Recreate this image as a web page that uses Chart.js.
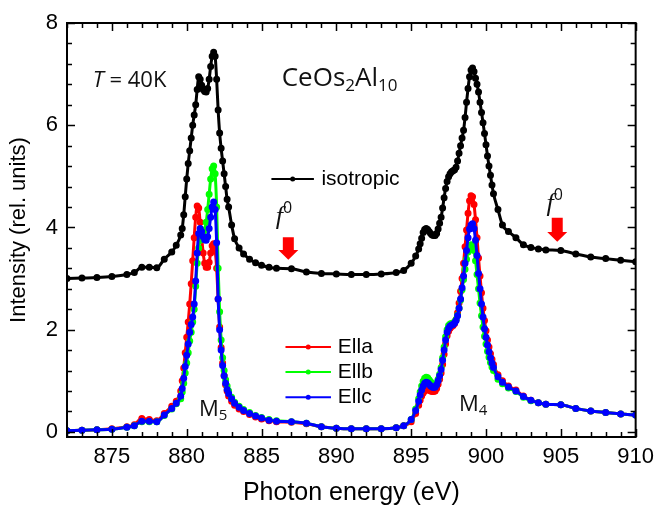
<!DOCTYPE html>
<html>
<head>
<meta charset="utf-8">
<script src="https://cdn.jsdelivr.net/npm/chart.js@4.4.1/dist/chart.umd.min.js"></script>
<style>
  html, body { margin: 0; padding: 0; background: #fff; }
</style>
</head>
<body>
<canvas id="xas" width="661" height="511"></canvas>
<script>
// photon energy grid (eV); denser across M5 and M4
const energy = [
  872, 873, 874, 875, 876, 876.5, 877, 877.5, 878, 878.5, 879, 879.3,
  879.6, 879.7, 879.8, 879.9, 880.0, 880.1, 880.2, 880.3, 880.4, 880.5, 880.6,
  880.7, 880.8, 880.9, 881.0, 881.1, 881.2, 881.3, 881.4, 881.5, 881.6, 881.7,
  881.8, 881.9, 882.0, 882.1, 882.2, 882.3, 882.4, 882.5, 882.6, 882.7, 882.8,
  883, 883.2, 883.5, 883.8, 884.2, 884.6, 885, 885.5, 886, 887, 888, 889,
  890, 891, 892, 893, 894, 894.5, 895, 895.3,
  895.5, 895.6, 895.7, 895.8, 895.9, 896.0, 896.1, 896.2, 896.3, 896.4, 896.5,
  896.6, 896.7, 896.8, 896.9, 897.0, 897.1, 897.2, 897.3, 897.4, 897.5, 897.6,
  897.7, 897.8, 897.9, 898.0, 898.1, 898.2, 898.3, 898.4, 898.5, 898.6, 898.7,
  898.8, 898.9, 899.0, 899.1, 899.2, 899.3, 899.4, 899.5, 899.6, 899.7, 899.8,
  899.9, 900.0, 900.1, 900.2, 900.3, 900.4, 900.5,
  900.8, 901.1, 901.5, 902, 902.5, 903, 903.5, 904, 905, 906, 907, 908, 909, 910];

// isotropic spectrum (offset by ~3)
const isotropic = [
  3.00, 3.01, 3.02, 3.04, 3.08, 3.12, 3.22, 3.22, 3.21, 3.38, 3.52, 3.65,
  3.85, 3.98, 4.25, 4.60, 4.95, 5.25, 5.50, 5.75, 6.00, 6.20, 6.40,
  6.70, 6.95, 6.90, 6.78, 6.70, 6.66, 6.65, 6.72, 6.90, 7.15, 7.35,
  7.43, 7.35, 6.90, 6.30, 5.85, 5.55, 5.30, 5.05, 4.80, 4.55, 4.40,
  4.05, 3.78, 3.60, 3.48, 3.38, 3.31, 3.26, 3.22, 3.20, 3.19, 3.13, 3.10,
  3.09, 3.08, 3.08, 3.09, 3.12, 3.16, 3.30, 3.44,
  3.58, 3.68, 3.79, 3.90, 3.96, 3.98, 3.96, 3.92, 3.88, 3.85, 3.84,
  3.84, 3.88, 3.97, 4.08, 4.20, 4.38, 4.58, 4.76, 4.90, 4.99, 5.05,
  5.09, 5.11, 5.13, 5.18, 5.30, 5.45, 5.60, 5.75, 5.90, 6.15, 6.45,
  6.72, 6.95, 7.08, 7.12, 7.05, 6.92, 6.80, 6.65, 6.45, 6.25, 6.05,
  5.84, 5.62, 5.40, 5.20, 5.02, 4.83, 4.66,
  4.35, 4.05, 3.92, 3.80, 3.66, 3.61, 3.58, 3.56, 3.55, 3.48, 3.42, 3.39, 3.36, 3.33];

// E||a
const ellA = [
  0.02, 0.03, 0.04, 0.06, 0.10, 0.14, 0.26, 0.24, 0.22, 0.36, 0.50, 0.60,
  0.80, 1.00, 1.25, 1.55, 1.85, 2.15, 2.50, 2.90, 3.35, 3.80, 4.20,
  4.42, 4.38, 4.10, 3.80, 3.50, 3.30, 3.22, 3.22, 3.32, 3.50, 3.64,
  3.68, 3.55, 3.20, 2.60, 2.05, 1.65, 1.35, 1.10, 0.92, 0.80, 0.70,
  0.60, 0.52, 0.45, 0.40, 0.34, 0.29, 0.25, 0.22, 0.20, 0.19, 0.16, 0.10,
  0.07, 0.06, 0.06, 0.06, 0.08, 0.12, 0.20, 0.36,
  0.52, 0.62, 0.70, 0.76, 0.80, 0.82, 0.83, 0.82, 0.80, 0.79, 0.79,
  0.80, 0.85, 0.93, 1.03, 1.15, 1.32, 1.52, 1.72, 1.88, 1.97, 2.03,
  2.06, 2.08, 2.12, 2.20, 2.33, 2.52, 2.75, 3.00, 3.30, 3.62, 3.95,
  4.28, 4.52, 4.62, 4.60, 4.45, 4.15, 3.80, 3.40, 3.05, 2.72, 2.42,
  2.18, 1.98, 1.80, 1.66, 1.53, 1.42, 1.32,
  1.12, 1.00, 0.90, 0.82, 0.70, 0.62, 0.57, 0.54, 0.53, 0.46, 0.41, 0.38, 0.35, 0.33];

// E||b
const ellB = [
  0.02, 0.03, 0.04, 0.05, 0.09, 0.12, 0.20, 0.20, 0.20, 0.32, 0.45, 0.55,
  0.65, 0.78, 0.95, 1.15, 1.35, 1.55, 1.78, 1.95, 2.15, 2.40, 2.85,
  3.30, 3.60, 3.75, 3.80, 3.85, 3.95, 4.10, 4.35, 4.65, 4.95, 5.15,
  5.20, 5.05, 4.40, 3.20, 2.35, 1.80, 1.45, 1.20, 1.02, 0.90, 0.80,
  0.68, 0.58, 0.50, 0.44, 0.38, 0.32, 0.28, 0.24, 0.22, 0.20, 0.17, 0.10,
  0.07, 0.06, 0.06, 0.06, 0.08, 0.12, 0.24, 0.45,
  0.65, 0.78, 0.90, 0.99, 1.05, 1.07, 1.06, 1.02, 0.98, 0.94, 0.92,
  0.92, 0.95, 1.03, 1.13, 1.26, 1.45, 1.66, 1.86, 2.00, 2.08, 2.11,
  2.12, 2.13, 2.15, 2.20, 2.28, 2.42, 2.58, 2.78, 2.98, 3.18, 3.38,
  3.52, 3.62, 3.66, 3.65, 3.55, 3.35, 3.08, 2.80, 2.52, 2.27, 2.05,
  1.87, 1.72, 1.58, 1.46, 1.36, 1.27, 1.20,
  1.03, 0.94, 0.86, 0.79, 0.68, 0.61, 0.57, 0.54, 0.53, 0.46, 0.41, 0.38, 0.35, 0.33];

// E||c
const ellC = [
  0.02, 0.03, 0.04, 0.05, 0.09, 0.12, 0.21, 0.21, 0.20, 0.33, 0.46, 0.56,
  0.70, 0.85, 1.05, 1.28, 1.50, 1.72, 1.95, 2.10, 2.25, 2.50, 2.95,
  3.50, 3.88, 3.98, 3.92, 3.82, 3.76, 3.75, 3.82, 3.98, 4.20, 4.40,
  4.50, 4.35, 3.70, 2.60, 2.00, 1.60, 1.30, 1.10, 0.95, 0.83, 0.75,
  0.65, 0.56, 0.48, 0.42, 0.36, 0.31, 0.27, 0.23, 0.21, 0.20, 0.17, 0.10,
  0.07, 0.06, 0.06, 0.06, 0.08, 0.12, 0.24, 0.42,
  0.60, 0.72, 0.82, 0.90, 0.95, 0.97, 0.96, 0.93, 0.90, 0.88, 0.87,
  0.88, 0.92, 1.00, 1.10, 1.22, 1.40, 1.60, 1.80, 1.95, 2.03, 2.07,
  2.09, 2.10, 2.13, 2.18, 2.27, 2.42, 2.60, 2.82, 3.05, 3.30, 3.55,
  3.80, 3.97, 4.05, 4.07, 3.98, 3.75, 3.45, 3.10, 2.80, 2.50, 2.25,
  2.02, 1.85, 1.70, 1.57, 1.45, 1.35, 1.26,
  1.08, 0.97, 0.88, 0.80, 0.69, 0.62, 0.57, 0.54, 0.53, 0.46, 0.41, 0.38, 0.35, 0.33];

const xTicks = [875, 880, 885, 890, 895, 900, 905, 910];
const yTicks = [0, 2, 4, 6, 8];

const SANS = '"Liberation Sans", Arial, sans-serif';
const OPEN = '"Open Sans", "Noto Sans", sans-serif';

function series(label, values, color, order) {
  return {
    label: label,
    order: order,
    data: energy.map((e, i) => ({ x: e, y: values[i] })),
    borderColor: color,
    backgroundColor: color,
    borderWidth: 3,
    pointRadius: 2,
    pointHoverRadius: 2,
    cubicInterpolationMode: 'monotone'
  };
}

// write a run of text pieces (for italics, sub/superscripts)
function runs(ctx, x, y, parts) {
  parts.forEach(p => {
    ctx.font = p[1];
    ctx.fillText(p[0], x, y + (p[2] || 0));
    x += ctx.measureText(p[0]).width;
  });
}

function legendLine(ctx, x1, x2, y, color) {
  ctx.strokeStyle = color;
  ctx.fillStyle = color;
  ctx.lineWidth = 2;
  ctx.beginPath(); ctx.moveTo(x1, y); ctx.lineTo(x2, y); ctx.stroke();
  ctx.beginPath(); ctx.arc((x1 + x2) / 2, y, 2.5, 0, Math.PI * 2); ctx.fill();
}

function arrow(ctx, cx, top, neck, tip) {
  ctx.fillStyle = '#ff0000';
  ctx.beginPath();
  ctx.moveTo(cx - 5.5, top); ctx.lineTo(cx + 5.5, top);
  ctx.lineTo(cx + 5.5, neck); ctx.lineTo(cx + 10, neck);
  ctx.lineTo(cx, tip); ctx.lineTo(cx - 10, neck);
  ctx.lineTo(cx - 5.5, neck); ctx.closePath();
  ctx.fill();
}

const decor = {
  id: 'decor',
  afterDatasetsDraw(chart) {
    const ctx = chart.ctx;
    const a = chart.chartArea;
    const sx = chart.scales.x, sy = chart.scales.y;
    const px = v => sx.getPixelForValue(v);
    const py = v => sy.getPixelForValue(v);
    const ds = chart.data.datasets;

    ctx.save();
    // inward ticks on all four sides
    ctx.strokeStyle = '#000';
    ctx.lineWidth = 1.5;
    ctx.beginPath();
    for (let e = 872; e <= 910; e++) {
      const X = Math.round(px(e)) + 0.5;
      const len = e % 5 === 0 ? 8 : 5;
      ctx.moveTo(X, a.bottom); ctx.lineTo(X, a.bottom - len);
      ctx.moveTo(X, a.top); ctx.lineTo(X, a.top + len);
    }
    for (let i = 0; i <= 20; i++) {
      const Y = Math.round(py(i * 0.4)) + 0.5;
      const len = i % 5 === 0 ? 8 : 5;
      ctx.moveTo(a.left, Y); ctx.lineTo(a.left + len, Y);
      ctx.moveTo(a.right, Y); ctx.lineTo(a.right - len, Y);
    }
    ctx.stroke();
    ctx.lineWidth = 2;
    ctx.strokeRect(a.left, a.top, a.right - a.left, a.bottom - a.top);

    // labels
    ctx.fillStyle = '#111';
    ctx.textBaseline = 'alphabetic';
    runs(ctx, px(873.72), py(6.75), [['T', 'italic 22px ' + OPEN], [' = 40K', '22px ' + OPEN]]);
    runs(ctx, px(886.35), py(6.77), [['CeOs', '26px ' + OPEN], ['2', '17px ' + OPEN, 5],
      ['Al', '26px ' + OPEN], ['10', '17px ' + OPEN, 5]]);
    runs(ctx, px(880.82), py(0.31), [['M', '22px ' + OPEN], ['5', '15px ' + OPEN, 4]]);
    runs(ctx, px(898.2), py(0.41), [['M', '22px ' + OPEN], ['4', '15px ' + OPEN, 4]]);
    runs(ctx, px(885.95), py(4.07), [['f', 'italic 26px "Liberation Serif", serif'], ['0', '16px ' + OPEN, -11]]);
    runs(ctx, px(904.05), py(4.32), [['f', 'italic 26px "Liberation Serif", serif'], ['0', '16px ' + OPEN, -11]]);

    arrow(ctx, px(886.79), py(3.81), py(3.56), py(3.37));
    arrow(ctx, px(904.76), py(4.19), py(3.91), py(3.72));

    // legends
    ctx.textBaseline = 'middle';
    legendLine(ctx, px(885.66), px(888.5), py(4.95), '#000');
    ctx.fillStyle = '#000';
    ctx.font = '21px ' + SANS;
    ctx.fillText(ds[0].label, px(889.0), py(4.95));
    [1, 2, 3].forEach((k, j) => {
      const Y = py(1.66 - j * 0.49);
      legendLine(ctx, px(886.6), px(889.64), Y, ds[k].borderColor);
      ctx.fillStyle = '#000';
      ctx.font = '21px ' + SANS;
      ctx.fillText(ds[k].label, px(890.1), Y);
    });
    ctx.restore();
  }
};

new Chart(document.getElementById('xas'), {
  type: 'line',
  data: {
    datasets: [
      series('isotropic', isotropic, '#000000', 0),
      series('Ella', ellA, '#ff0000', 3),
      series('Ellb', ellB, '#00ff00', 2),
      series('Ellc', ellC, '#0000ff', 1)
    ]
  },
  options: {
    responsive: false,
    animation: false,
    events: [],
    layout: { padding: { left: 0, right: 21, top: 23, bottom: 0 } },
    plugins: { legend: { display: false }, tooltip: { enabled: false } },
    scales: {
      x: {
        type: 'linear',
        min: 872,
        max: 910,
        afterFit: s => { s.height = 74; },
        afterBuildTicks: s => { s.ticks = xTicks.map(v => ({ value: v })); },
        grid: { display: false, drawTicks: false },
        border: { display: false },
        ticks: { color: '#000', padding: 7, font: { family: SANS, size: 22 } },
        title: {
          display: true,
          text: 'Photon energy (eV)',
          color: '#000',
          padding: 3,
          font: { family: SANS, size: 25 }
        }
      },
      y: {
        min: -0.1,
        max: 8,
        afterFit: s => { s.width = 67; },
        afterBuildTicks: s => { s.ticks = yTicks.map(v => ({ value: v })); },
        grid: { display: false, drawTicks: false },
        border: { display: false },
        ticks: { color: '#000', padding: 9, font: { family: SANS, size: 22 } },
        title: {
          display: true,
          text: 'Intensity (rel. units)',
          color: '#000',
          padding: 6,
          font: { family: SANS, size: 22 }
        }
      }
    }
  },
  plugins: [decor]
});
</script>
</body>
</html>
